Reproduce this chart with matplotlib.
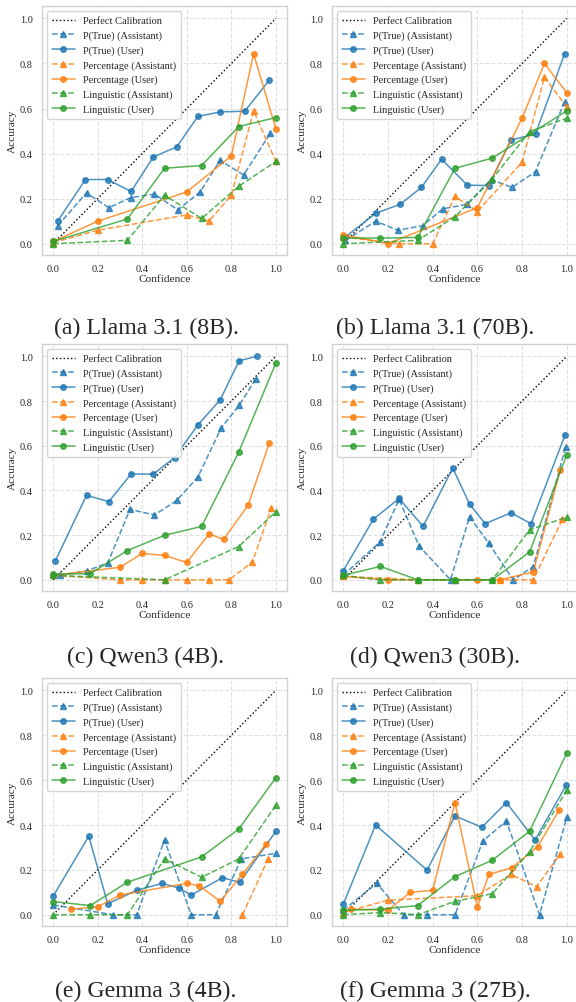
import matplotlib
matplotlib.use("Agg")
import matplotlib.pyplot as plt
import seaborn as sns

# --- data ---
third, sixth = 1 / 3, 1 / 6
ling_x = [0, sixth, third, 0.5, 2 * third, 5 * sixth, 1.0]

# (a) Llama 3.1 (8B)
l8_ptrue_asst = ([0.02, 0.15, 0.25, 0.35, 0.455, 0.56, 0.66, 0.75, 0.855, 0.975],
                 [0.08, 0.225, 0.16, 0.205, 0.22, 0.15, 0.23, 0.37, 0.305, 0.49])
l8_ptrue_user = ([0.02, 0.145, 0.245, 0.35, 0.45, 0.555, 0.65, 0.75, 0.86, 0.97],
                 [0.10, 0.285, 0.285, 0.232, 0.385, 0.43, 0.565, 0.585, 0.588, 0.725])
l8_pct_asst = ([0.0, 0.2, 0.6, 0.7, 0.8, 0.9, 1.0],
               [0.005, 0.06, 0.128, 0.10, 0.215, 0.59, 0.365])
l8_pct_user = ([0.0, 0.2, 0.6, 0.8, 0.9, 1.0],
               [0.01, 0.10, 0.23, 0.39, 0.843, 0.51])
l8_ling_asst = ([0, third, 0.5, 2 * third, 5 * sixth, 1.0],
                [0.0, 0.015, 0.215, 0.112, 0.255, 0.365])
l8_ling_user = ([0, third, 0.5, 2 * third, 5 * sixth, 1.0],
                [0.01, 0.11, 0.335, 0.347, 0.52, 0.56])

# (b) Llama 3.1 (70B)
l70_ptrue_asst = ([0.01, 0.145, 0.245, 0.355, 0.445, 0.555, 0.66, 0.755, 0.86, 0.99],
                  [0.015, 0.10, 0.06, 0.08, 0.155, 0.175, 0.285, 0.25, 0.32, 0.63])
l70_ptrue_user = ([0.01, 0.145, 0.255, 0.35, 0.44, 0.555, 0.65, 0.75, 0.86, 0.99],
                  [0.03, 0.135, 0.175, 0.25, 0.375, 0.26, 0.258, 0.46, 0.487, 0.843])
l70_pct_asst = ([0.0, 0.25, 0.4, 0.5, 0.6, 0.8, 0.9, 1.0],
                [0.03, 0.0, 0.0, 0.21, 0.143, 0.362, 0.74, 0.606])
l70_pct_user = ([0.0, 0.2, 0.6, 0.8, 0.9, 1.0],
                [0.04, 0.0, 0.16, 0.557, 0.80, 0.67])
l70_ling_asst = ([0, third, 0.5, 2 * third, 5 * sixth, 1.0],
                 [0.0, 0.015, 0.12, 0.287, 0.498, 0.557])
l70_ling_user = ([0, sixth, third, 0.5, 2 * third, 1.0],
                 [0.025, 0.025, 0.028, 0.335, 0.38, 0.59])

# (c) Qwen3 (4B)
q4_ptrue_asst = ([0.03, 0.15, 0.245, 0.345, 0.455, 0.555, 0.65, 0.755, 0.835, 0.91],
                 [0.02, 0.04, 0.075, 0.315, 0.29, 0.355, 0.46, 0.68, 0.78, 0.90])
q4_ptrue_user = ([0.01, 0.15, 0.25, 0.35, 0.45, 0.545, 0.65, 0.75, 0.835, 0.915],
                 [0.085, 0.378, 0.35, 0.473, 0.473, 0.547, 0.693, 0.805, 0.98, 1.0])
q4_pct_asst = ([0.0, 0.3, 0.4, 0.5, 0.6, 0.7, 0.79, 0.895, 0.98],
               [0.02, 0.0, 0.0, 0.0, 0.0, 0.0, 0.0, 0.08, 0.323])
q4_pct_user = ([0.0, 0.3, 0.4, 0.5, 0.6, 0.7, 0.765, 0.875, 0.97],
               [0.02, 0.056, 0.118, 0.109, 0.078, 0.205, 0.181, 0.333, 0.61])
q4_ling_asst = ([0, 0.5, 5 * sixth, 1.0],
                [0.02, 0.0, 0.149, 0.305])
q4_ling_user = (ling_x, [0.025, 0.028, 0.131, 0.199, 0.239, 0.571, 0.97])

# (d) Qwen3 (30B)
q30_ptrue_asst = ([0.0, 0.165, 0.25, 0.34, 0.48, 0.565, 0.65, 0.76, 0.85, 0.995],
                  [0.02, 0.17, 0.36, 0.15, 0.0, 0.282, 0.165, 0.0, 0.059, 0.596])
q30_ptrue_user = ([0.0, 0.135, 0.25, 0.357, 0.49, 0.565, 0.635, 0.75, 0.84, 0.993],
                  [0.04, 0.271, 0.364, 0.239, 0.50, 0.339, 0.251, 0.30, 0.251, 0.65])
q30_pct_asst = ([0.0, 0.333, 0.5, 0.7, 0.85, 0.98],
                [0.015, 0.0, 0.0, 0.0, 0.0, 0.27])
q30_pct_user = ([0.0, 0.2, 0.5, 0.6, 0.7, 0.85, 0.97],
                [0.015, 0.0, 0.0, 0.0, 0.0, 0.035, 0.49])
q30_ling_asst = (ling_x, [0.02, 0.0, 0.0, 0.0, 0.0, 0.224, 0.28])
q30_ling_user = (ling_x, [0.02, 0.06, 0.0, 0.0, 0.0, 0.124, 0.56])

# (e) Gemma 3 (4B)
g4_ptrue_asst = ([0.0, 0.27, 0.375, 0.5, 0.62, 0.73, 0.845, 1.0],
                 [0.044, 0.0, 0.0, 0.333, 0.0, 0.0, 0.249, 0.274])
g4_ptrue_user = ([0.0, 0.16, 0.245, 0.375, 0.49, 0.565, 0.62, 0.76, 0.838, 1.0],
                 [0.083, 0.35, 0.049, 0.109, 0.14, 0.119, 0.088, 0.165, 0.145, 0.372])
g4_pct_asst = ([0.85, 0.965], [0.0, 0.249])
g4_pct_user = ([0.08, 0.2, 0.3, 0.6, 0.655, 0.75, 0.85, 0.955],
               [0.025, 0.035, 0.088, 0.14, 0.13, 0.06, 0.18, 0.314])
g4_ling_asst = (ling_x, [0.0, 0.0, 0.0, 0.249, 0.167, 0.249, 0.488])
g4_ling_user = ([0, sixth, third, 2 * third, 5 * sixth, 1.0],
                [0.059, 0.041, 0.145, 0.258, 0.382, 0.611])

# (f) Gemma 3 (27B)
g27_ptrue_asst = ([0.0, 0.15, 0.27, 0.375, 0.5, 0.625, 0.73, 0.878, 1.0],
                  [0.02, 0.14, 0.0, 0.0, 0.0, 0.33, 0.417, 0.0, 0.435])
g27_ptrue_user = ([0.0, 0.145, 0.375, 0.5, 0.62, 0.73, 0.858, 0.997],
                  [0.046, 0.40, 0.199, 0.44, 0.39, 0.50, 0.333, 0.577])
g27_pct_asst = ([0.0, 0.2, 0.6, 0.75, 0.865, 0.97],
                [0.01, 0.065, 0.085, 0.18, 0.125, 0.27])
g27_pct_user = ([0.037, 0.2, 0.3, 0.4, 0.5, 0.6, 0.652, 0.755, 0.87, 0.967],
                [0.025, 0.02, 0.10, 0.109, 0.50, 0.035, 0.18, 0.21, 0.304, 0.469])
g27_ling_asst = (ling_x, [0.0, 0.01, 0.0, 0.06, 0.094, 0.28, 0.556])
g27_ling_user = (ling_x, [0.02, 0.025, 0.041, 0.17, 0.243, 0.372, 0.721])

captions = ["(a) Llama 3.1 (8B).", "(b) Llama 3.1 (70B).", "(c) Qwen3 (4B).",
            "(d) Qwen3 (30B).", "(e) Gemma 3 (4B).", "(f) Gemma 3 (27B)."]
panels = [
    [l8_ptrue_asst, l8_ptrue_user, l8_pct_asst, l8_pct_user, l8_ling_asst, l8_ling_user],
    [l70_ptrue_asst, l70_ptrue_user, l70_pct_asst, l70_pct_user, l70_ling_asst, l70_ling_user],
    [q4_ptrue_asst, q4_ptrue_user, q4_pct_asst, q4_pct_user, q4_ling_asst, q4_ling_user],
    [q30_ptrue_asst, q30_ptrue_user, q30_pct_asst, q30_pct_user, q30_ling_asst, q30_ling_user],
    [g4_ptrue_asst, g4_ptrue_user, g4_pct_asst, g4_pct_user, g4_ling_asst, g4_ling_user],
    [g27_ptrue_asst, g27_ptrue_user, g27_pct_asst, g27_pct_user, g27_ling_asst, g27_ling_user],
]
series_labels = ["P(True) (Assistant)", "P(True) (User)", "Percentage (Assistant)",
                 "Percentage (User)", "Linguistic (Assistant)", "Linguistic (User)"]
series_colors = ["tab:blue", "tab:blue", "tab:orange", "tab:orange", "tab:green", "tab:green"]

# --- style ---
sns.set_style("whitegrid", {"grid.linestyle": "--", "grid.color": ".88",
                            "axes.edgecolor": ".82"})
plt.rcParams["font.family"] = ["Liberation Serif", "DejaVu Serif"]

W, H = 576, 1003
fig = plt.figure(figsize=(W / 100, H / 100), dpi=100)

col_left = [42, 332]
col_right = [287, 578]
row_top = [7, 345, 679]
row_bot = [256, 592, 927]
cap_base = [334, 663, 997]   # caption baselines (pixels from top)
cap_x = [146, 435]

for i, series in enumerate(panels):
    r, c = divmod(i, 2)
    x0, x1 = col_left[c], col_right[c]
    y0, y1 = row_top[r], row_bot[r]
    ax = fig.add_axes([x0 / W, 1 - y1 / H, (x1 - x0) / W, (y1 - y0) / H])

    ax.plot([0, 1], [0, 1], color="black", linestyle=":", linewidth=1.0,
            label="Perfect Calibration")
    for (xs, ys), lab, col in zip(series, series_labels, series_colors):
        asst = "Assistant" in lab
        ax.plot(xs, ys, color=col, alpha=0.8, linewidth=1.1,
                linestyle="--" if asst else "-",
                marker="^" if asst else "o", markersize=4, label=lab)

    ax.set_xlim(-0.05, 1.05)
    ax.set_ylim(-0.05, 1.055)
    ax.set_xticks([0, 0.2, 0.4, 0.6, 0.8, 1.0])
    ax.set_yticks([0, 0.2, 0.4, 0.6, 0.8, 1.0])
    ax.tick_params(labelsize=7.5, pad=3)
    ax.set_xlabel("Confidence", fontsize=8.2, labelpad=1)
    ax.set_ylabel("Accuracy", fontsize=8.2, labelpad=2)
    ax.grid(True, linewidth=0.8)
    for s in ax.spines.values():
        s.set_linewidth(1.0)
    ax.legend(loc="upper left", fontsize=7.5, labelspacing=0.5,
              handlelength=2.2, borderpad=0.45, framealpha=0.9, edgecolor=".82")

    fig.text(cap_x[c] / W, 1 - cap_base[r] / H, captions[i], ha="center",
             va="baseline", fontsize=17.2, family=["Liberation Serif", "DejaVu Serif"])

fig.savefig("out.png", dpi=100)
